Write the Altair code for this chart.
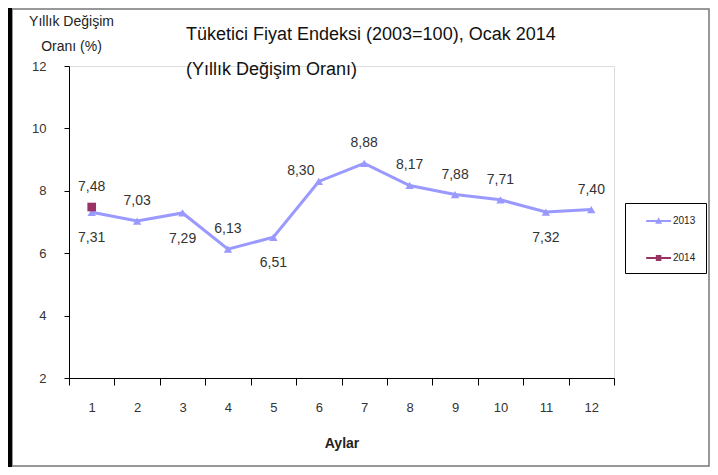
import altair as alt
import pandas as pd

months = [1, 2, 3, 4, 5, 6, 7, 8, 9, 10, 11, 12]
values_2013 = [7.31, 7.03, 7.29, 6.13, 6.51, 8.30, 8.88, 8.17, 7.88, 7.71, 7.32, 7.40]
label_pos_2013 = ["below", "above", "below", "above", "below", "left", "above", "above", "above", "above", "below", "above"]
months_2014 = [1]
values_2014 = [7.48]
label_pos_2014 = ["above"]
series = ["2013", "2014"]
series_colors = ["#9999FF", "#993366"]
y_ticks = [2, 4, 6, 8, 10, 12]

rows = []
for m, v, p in zip(months, values_2013, label_pos_2013):
    rows.append({"Ay": m, "Oran": v, "Yıl": "2013", "pos": p})
for m, v, p in zip(months_2014, values_2014, label_pos_2014):
    rows.append({"Ay": m, "Oran": v, "Yıl": "2014", "pos": p})
df = pd.DataFrame(rows)

NARROW = "Liberation Sans Narrow, Arial Narrow, Liberation Sans"
FONT = "Liberation Sans, Arial"

x_enc = alt.X(
    "Ay:O",
    scale=alt.Scale(type="band", paddingInner=0, paddingOuter=0),
    axis=alt.Axis(
        title="Aylar", titleFont=FONT, titleFontSize=14, titleFontWeight="bold",
        titleColor="#222", titlePadding=22,
        labelAngle=0, labelFont=NARROW, labelFontSize=13, labelColor="#333",
        labelPadding=16, tickBand="extent", tickSize=7, tickColor="#000",
        domainColor="#000", grid=False,
    ),
)
y_enc = alt.Y(
    "Oran:Q",
    scale=alt.Scale(domain=[2, 12], nice=False, zero=False),
    axis=alt.Axis(
        values=y_ticks, title=["Yıllık Değişim", "Oranı (%)"], titleAngle=0,
        titleAlign="center", titleBaseline="alphabetic", titleX=2, titleY=-41,
        titleFont=NARROW, titleFontSize=14, titleFontWeight="normal", titleColor="#222",
        titleLineHeight=25,
        labelFont=NARROW, labelFontSize=13, labelColor="#333", labelPadding=18,
        tickSize=5, tickColor="#000", domainColor="#000", grid=False,
    ),
)

# legend symbols: a short line with the series marker on it (shifted right of the symbol slot)
LINE_PATH = "M0.46,-0.13H4.06V0.13H0.46Z"
legend_shapes = [LINE_PATH + "M2.26,-0.55L2.76,0.4H1.76Z", LINE_PATH + "M1.86,-0.45H2.66V0.45H1.86Z"]

base = alt.Chart(df)

line = base.transform_filter(alt.datum["Yıl"] == "2013").mark_line(
    strokeWidth=3, color=series_colors[0]).encode(x=x_enc, y=y_enc)
pts13 = base.transform_filter(alt.datum["Yıl"] == "2013").mark_point(
    filled=True, opacity=1, size=70, shape="triangle-up", color=series_colors[0]).encode(x=x_enc, y=y_enc)
pts14 = base.transform_filter(alt.datum["Yıl"] == "2014").mark_point(
    filled=True, opacity=1, size=75, shape="square", color=series_colors[1]).encode(x=x_enc, y=y_enc)

legend = alt.Legend(title=None, orient="none", legendX=556, legendY=137,
                    strokeColor="#000", padding=10, rowPadding=24, labelOffset=22,
                    labelFont=NARROW, labelFontSize=10, labelColor="#222",
                    symbolSize=190, fillColor="white")
legend_layer = base.transform_filter("false").mark_point(filled=True, size=190, opacity=1).encode(
    x=x_enc, y=y_enc,
    color=alt.Color("Yıl:N", scale=alt.Scale(domain=series, range=series_colors), legend=legend),
    shape=alt.Shape("Yıl:N", scale=alt.Scale(domain=series, range=legend_shapes), legend=legend),
)

lab = base.transform_calculate(
    lbl="replace(format(datum.Oran, '.2f'), '.', ',')"
)
txt_kw = dict(font=FONT, fontSize=14, color="#333")
above = lab.transform_filter(alt.datum.pos == "above").mark_text(dy=-20, **txt_kw).encode(
    x=x_enc, y=y_enc, text="lbl:N")
below = lab.transform_filter(alt.datum.pos == "below").mark_text(dy=26, **txt_kw).encode(
    x=x_enc, y=y_enc, text="lbl:N")
left = lab.transform_filter(alt.datum.pos == "left").mark_text(dx=-18, dy=-10, **txt_kw).encode(
    x=x_enc, y=y_enc, text="lbl:N")

frame = alt.Chart(pd.DataFrame({"a": [0]})).mark_rect(fill=None, stroke="#777", strokeWidth=1.5).encode(
    x=alt.value(-57), x2=alt.value(640), y=alt.value(-57), y2=alt.value(400)
)
strip = alt.Chart(pd.DataFrame({"a": [0]})).mark_rect(fill="#000").encode(
    x=alt.value(-61), x2=alt.value(-57), y=alt.value(-58), y2=alt.value(401)
)

chart = alt.layer(frame, strip, line, pts13, pts14, legend_layer, above, below, left).properties(
    width=545, height=312,
    title=alt.TitleParams(
        text="Tüketici Fiyat Endeksi (2003=100), Ocak 2014",
        subtitle="(Yıllık Değişim Oranı)",
        anchor="start", dx=178, dy=75, font=FONT, fontSize=18, fontWeight="normal",
        color="#111", subtitleFont=FONT, subtitleFontSize=18, subtitleColor="#111",
        subtitlePadding=17,
    ),
    autosize=alt.AutoSizeParams(type="none"),
    padding={"left": 61, "top": 58, "right": 96, "bottom": 89},
).configure_view(stroke=None).configure(background="white")

chart.save("out.html", embed_options={"renderer": "svg", "actions": False})
